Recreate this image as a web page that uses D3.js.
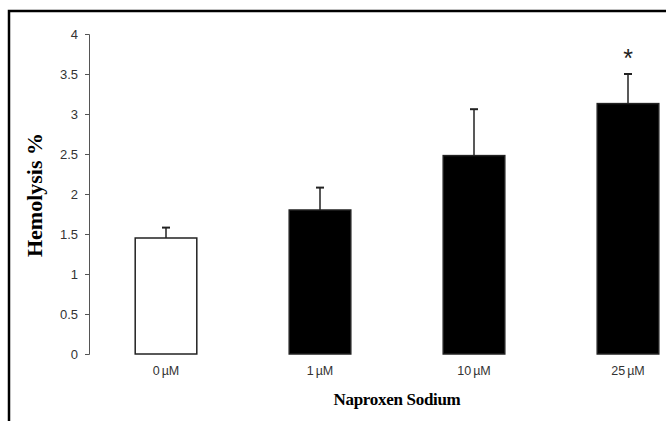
<!DOCTYPE html>
<html>
<head>
<meta charset="utf-8">
<script src="https://cdn.jsdelivr.net/npm/d3@7"></script>
<style>
  body { margin: 0; background: #fff; }
</style>
</head>
<body>
<div id="chart"></div>
<script>
"use strict";

const categories = ["0 µM", "1 µM", "10 µM", "25 µM"];
const means = [1.45, 1.80, 2.48, 3.13];
const errors = [0.13, 0.28, 0.58, 0.37];
const fills = ["white", "black", "black", "black"];
const marks = ["", "", "", "*"];
const yTicks = [0, 0.5, 1, 1.5, 2, 2.5, 3, 3.5, 4];

const msm = {
    width: 666,
    height: 421,
    axisX: 89,
    top: 34,
    bottom: 354
}

let svg = d3.select("#chart")
    .append("svg")
    .attr("width", msm.width)
    .attr("height", msm.height);

// frame (top and left edges only)
svg.append("path")
    .attr("d", "M9,421 V11 H666")
    .attr("fill", "none")
    .attr("stroke", "black")
    .attr("stroke-width", 2.5);

let xScale = d3.scaleBand()
    .domain(categories)
    .range([msm.axisX, msm.axisX + 616])
    .paddingInner(0.6)
    .paddingOuter(0.3);

let yScale = d3.scaleLinear()
    .domain([0, 4])
    .range([msm.bottom, msm.top]);

// y axis
let yAxis = d3.axisLeft(yScale)
    .tickValues(yTicks)
    .tickFormat(d3.format("~g"))
    .tickSize(4)
    .tickPadding(7);

let gy = svg.append("g")
    .attr("transform", "translate(" + msm.axisX + ",0)")
    .call(yAxis);
gy.select(".domain").attr("stroke", "#555").attr("stroke-width", 1);
gy.selectAll(".tick line").attr("stroke", "#555");
gy.selectAll(".tick text")
    .attr("fill", "#333")
    .style("font-family", "'Liberation Sans', Arial, sans-serif")
    .style("font-size", "13px");

// x labels (no axis line)
let xAxis = d3.axisBottom(xScale).tickSize(0).tickPadding(12);
let gx = svg.append("g")
    .attr("transform", "translate(0," + msm.bottom + ")")
    .call(xAxis);
gx.select(".domain").remove();
gx.selectAll(".tick text")
    .attr("fill", "#333")
    .style("font-family", "'Liberation Sans', Arial, sans-serif")
    .style("font-size", "12.5px")
    .style("word-spacing", "-1.5px");

let data = categories.map((c, i) => ({ cat: c, mean: means[i], err: errors[i], fill: fills[i], mark: marks[i] }));

// error bars (drawn first so bars cover the lower part)
svg.selectAll(".err")
    .data(data)
    .enter()
    .append("line")
    .attr("class", "err")
    .attr("x1", (d) => xScale(d.cat) + xScale.bandwidth() / 2)
    .attr("x2", (d) => xScale(d.cat) + xScale.bandwidth() / 2)
    .attr("y1", (d) => yScale(d.mean))
    .attr("y2", (d) => yScale(d.mean + d.err))
    .attr("stroke", "#222")
    .attr("stroke-width", 1.5);

svg.selectAll(".cap")
    .data(data)
    .enter()
    .append("line")
    .attr("class", "cap")
    .attr("x1", (d) => xScale(d.cat) + xScale.bandwidth() / 2 - 4)
    .attr("x2", (d) => xScale(d.cat) + xScale.bandwidth() / 2 + 4)
    .attr("y1", (d) => yScale(d.mean + d.err))
    .attr("y2", (d) => yScale(d.mean + d.err))
    .attr("stroke", "#222")
    .attr("stroke-width", 2);

// bars
svg.selectAll(".bar")
    .data(data)
    .enter()
    .append("rect")
    .attr("class", "bar")
    .attr("x", (d) => xScale(d.cat))
    .attr("y", (d) => yScale(d.mean))
    .attr("width", xScale.bandwidth())
    .attr("height", (d) => yScale(0) - yScale(d.mean))
    .attr("fill", (d) => d.fill)
    .attr("stroke", "#222")
    .attr("stroke-width", 1.5);

// significance marks
svg.selectAll(".mark")
    .data(data.filter((d) => d.mark))
    .enter()
    .append("text")
    .attr("class", "mark")
    .attr("x", (d) => xScale(d.cat) + xScale.bandwidth() / 2)
    .attr("y", (d) => yScale(d.mean + d.err) - 7)
    .attr("text-anchor", "middle")
    .attr("fill", "#222")
    .style("font-family", "'Liberation Sans', Arial, sans-serif")
    .style("font-size", "25px")
    .text((d) => d.mark);

// axis titles
svg.append("text")
    .attr("x", 397)
    .attr("y", 405)
    .attr("text-anchor", "middle")
    .style("font-family", "'Liberation Serif', 'Times New Roman', serif")
    .style("font-weight", "bold")
    .style("font-size", "17px")
    .style("letter-spacing", "-0.3px")
    .text("Naproxen Sodium");

svg.append("text")
    .attr("transform", "translate(42,195) rotate(-90)")
    .attr("text-anchor", "middle")
    .style("font-family", "'Liberation Serif', 'Times New Roman', serif")
    .style("font-weight", "bold")
    .style("font-size", "22px")
    .text("Hemolysis %");
</script>
</body>
</html>
